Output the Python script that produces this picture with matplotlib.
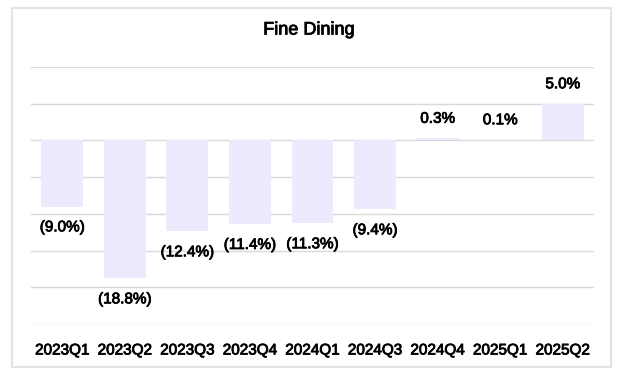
import matplotlib
matplotlib.use("Agg")
import matplotlib.pyplot as plt
from matplotlib.patches import Rectangle
import matplotlib.patheffects as pe

categories = ["2023Q1", "2023Q2", "2023Q3", "2023Q4", "2024Q1", "2024Q3", "2024Q4", "2025Q1", "2025Q2"]
values = [-9.0, -18.8, -12.4, -11.4, -11.3, -9.4, 0.3, 0.1, 5.0]
title = "Fine Dining"

plt.rcParams['font.family'] = ['Liberation Sans', 'DejaVu Sans']

W, H = 624, 374
fig = plt.figure(figsize=(W / 100, H / 100), dpi=100)
fig.patch.set_facecolor("white")

# outer border
fig.patches.append(Rectangle((11.5 / W, 1 - 367 / H), (611 - 11.5) / W, (367 - 8) / H,
                             transform=fig.transFigure, fill=False,
                             edgecolor="#E3E3E3", linewidth=1.5, zorder=0))

thick = [pe.withStroke(linewidth=0.6, foreground="#000000")]

ax = fig.add_axes([31 / W, 1 - 324 / H, (594 - 31) / W, (324 - 67) / H])
x = list(range(len(categories)))
ax.bar(x, values, width=0.67, color="#ECEAFD", zorder=2)
ax.set_xlim(-0.5, len(categories) - 0.5)
ax.set_ylim(-25, 10)
ax.set_yticks([10, 5, 0, -5, -10, -15, -20, -25])
ax.yaxis.grid(True, color="#D9D9D9", linewidth=1)
ax.set_axisbelow(True)
ax.tick_params(axis='y', left=False, labelleft=False)
ax.set_xticks(x)
ax.set_xticklabels(categories, fontsize=11, color="#000000")
for t in ax.get_xticklabels():
    t.set_path_effects(thick)
ax.tick_params(axis='x', length=0, pad=14)
for s in ax.spines.values():
    s.set_visible(False)

for xi, v in zip(x, values):
    if v < 0:
        txt = f"({abs(v):.1f}%)"
        off = -15
    else:
        txt = f"{v:.1f}%"
        off = 14
    ax.annotate(txt, (xi, v), xytext=(0, off), textcoords="offset points",
                ha="center", va="center", fontsize=11, color="#000000",
                path_effects=thick)

fig.text(309 / W, 1 - 30 / H, title, ha="center", va="center", fontsize=13,
         color="#000000", path_effects=thick)

fig.savefig("out.png", dpi=100)
